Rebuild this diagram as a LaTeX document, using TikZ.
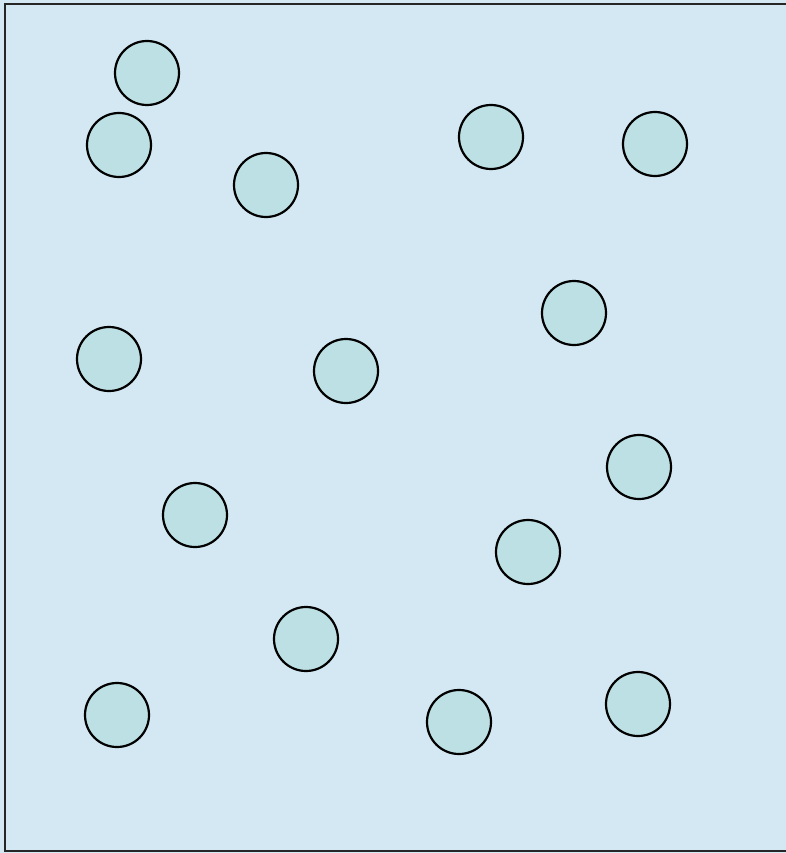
\documentclass[tikz,border=0pt]{standalone}
\usepackage{xcolor}
\usepackage{tikz}
\usetikzlibrary{positioning}
\definecolor{skyback}{HTML}{D3E8F2}
\definecolor{discfill}{HTML}{BCE0E3}

\begin{document}
\begin{tikzpicture}[
        x=1pt, y=-1pt,
        disc/.style = {circle, draw=black, fill=discfill, line width=2.2pt, minimum size=64pt, inner sep=0pt},
        frame/.style = {draw=black!85, line width=2pt}
    ]

    % Background
    \useasboundingbox (0,0) rectangle (786,853);
    \fill[skyback] (0,0) rectangle (786,853);
    \path [frame] (790,4) -- (5,4) -- (5,851) -- (790,851);

    % Discs
    \node [disc] (d1)  at (147,73)  {};
    \node [disc] (d2)  at (119,145) {};
    \node [disc] (d3)  at (266,185) {};
    \node [disc] (d4)  at (491,137) {};
    \node [disc] (d5)  at (655,144) {};
    \node [disc] (d6)  at (574,313) {};
    \node [disc] (d7)  at (109,359) {};
    \node [disc] (d8)  at (346,371) {};
    \node [disc] (d9)  at (639,467) {};
    \node [disc] (d10) at (195,515) {};
    \node [disc] (d11) at (528,552) {};
    \node [disc] (d12) at (306,639) {};
    \node [disc] (d13) at (117,715) {};
    \node [disc] (d14) at (459,722) {};
    \node [disc] (d15) at (638,704) {};

\end{tikzpicture}
\end{document}
